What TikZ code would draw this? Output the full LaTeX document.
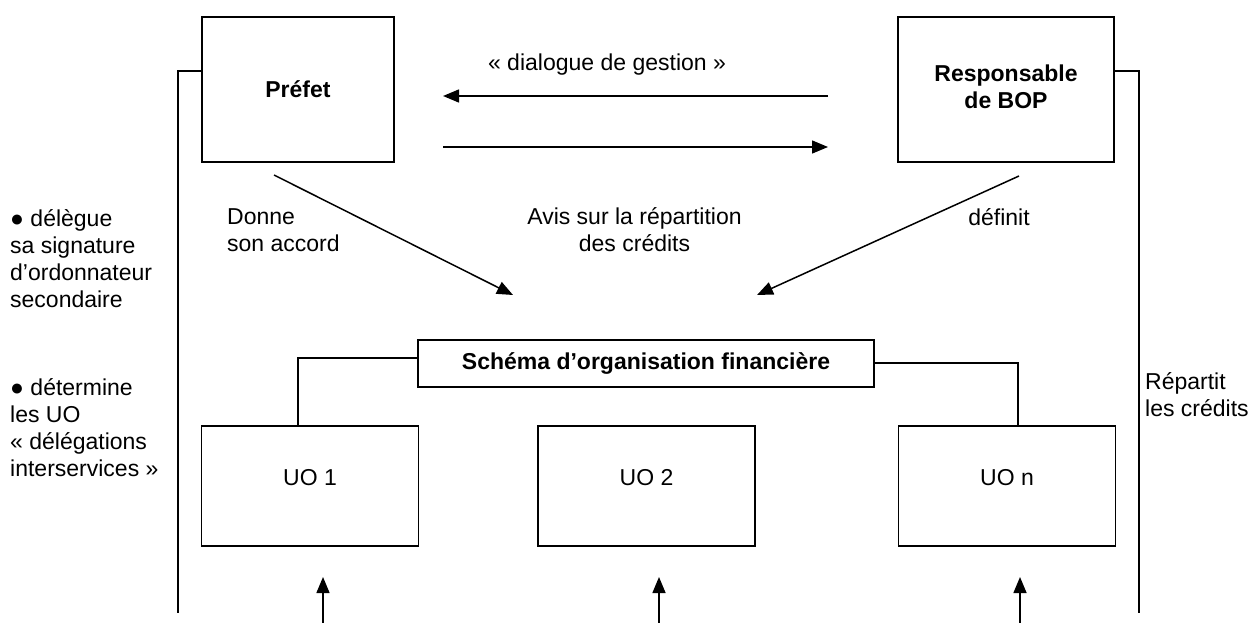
\documentclass[tikz,border=0pt]{standalone}
\usepackage{fontspec}
\setmainfont{Liberation Sans}
\usetikzlibrary{arrows.meta}
\tikzset{
  box/.style={draw, line width=1.5pt, inner sep=0pt, font=\fontsize{23}{27}\selectfont\bfseries, align=center},
  uobox/.style={draw, line width=1.5pt, inner sep=0pt, minimum width=217pt, minimum height=120pt},
  uotext/.style={label={[yshift=8pt]center:#1}},
  link/.style={line width=1.5pt},
  arr/.style={line width=1.5pt, -{Triangle[length=16pt,width=13pt]}},
  lbl/.style={inner sep=0pt, align=left},
  clbl/.style={inner sep=0pt, align=center},
}
\begin{document}
\begin{tikzpicture}[x=1pt, y=-1pt, font=\fontsize{23}{27}\selectfont]
\useasboundingbox (0,0) rectangle (1253,623);
% main boxes
\node[box, minimum width=192pt, minimum height=145pt] (prefet) at (298,89.5) {Préfet};
\node[box, minimum width=216pt, minimum height=145pt, label={[font=\fontsize{23}{27}\selectfont\bfseries, align=center, yshift=3pt]center:Responsable\\de BOP}] (bop) at (1006,89.5) {};
\node[box, minimum width=456pt, minimum height=47pt] (schema) at (646,363.5) {Schéma d’organisation financière};
\node[uobox, uotext={UO 1}] (uo1) at (310,486) {};
\node[uobox, uotext={UO 2}] (uo2) at (646.5,486) {};
\node[uobox, uotext={UO n}] (uon) at (1007,486) {};
% labels
\node[clbl] (dial) at (607,65) {« dialogue de gestion »};
\node[lbl, anchor=west] (donne) at (227,230.5) {Donne\\son accord};
\node[clbl] (avis) at (634.5,230) {Avis sur la répartition\\des crédits};
\node[clbl] (def) at (999,217) {définit};
\node[lbl, anchor=west] (deleg) at (10,258.5) {● délègue\\sa signature\\d’ordonnateur\\secondaire};
\node[lbl, anchor=west] (determ) at (10,427.5) {● détermine\\les UO\\« délégations\\interservices »};
\node[lbl, anchor=west] (repart) at (1145,395) {Répartit\\les crédits};
% coordinates
\coordinate (lbtop) at (178,71);
\coordinate (lbbot) at (178,613);
\coordinate (rbtop) at (1139,71);
\coordinate (rbbot) at (1139,613);
\coordinate (h1s) at (828,96);
\coordinate (h1e) at (443,96);
\coordinate (h2s) at (443,147);
\coordinate (h2e) at (828,147);
\coordinate (d1s) at (274,175);
\coordinate (d1e) at (513,295);
\coordinate (d2s) at (1019,176);
\coordinate (d2e) at (757,295);
\coordinate (c1) at (298,358);
\coordinate (c2) at (1018,363);
\coordinate (b1) at (323,623);
\coordinate (t1) at (323,577);
\coordinate (b2) at (659,623);
\coordinate (t2) at (659,577);
\coordinate (b3) at (1020,623);
\coordinate (t3) at (1020,577);
% brackets
\draw[link] (prefet.west |- lbtop) -- (lbtop) -- (lbbot);
\draw[link] (bop.east |- rbtop) -- (rbtop) -- (rbbot);
% dialogue arrows
\draw[arr] (h1s) -- (h1e);
\draw[arr] (h2s) -- (h2e);
% diagonal arrows
\draw[arr] (d1s) -- (d1e);
\draw[arr] (d2s) -- (d2e);
% schema to UO
\draw[link] (schema.west |- c1) -- (c1) -- (uo1.north -| c1);
\draw[link] (schema.east |- c2) -- (c2) -- (uon.north -| c2);
% bottom arrows
\draw[arr] (b1) -- (t1);
\draw[arr] (b2) -- (t2);
\draw[arr] (b3) -- (t3);
\end{tikzpicture}
\end{document}
